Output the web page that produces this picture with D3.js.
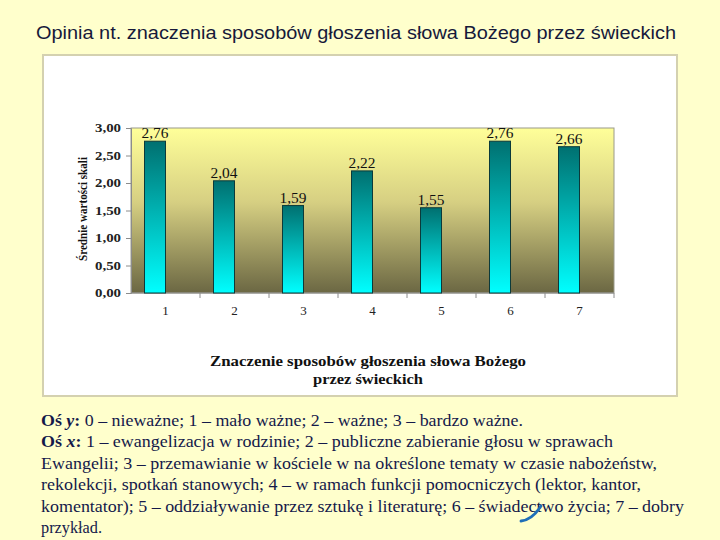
<!DOCTYPE html>
<html>
<head>
<meta charset="utf-8">
<script src="https://cdn.jsdelivr.net/npm/d3@7"></script>
<style>
  body { margin: 0; background: #FFFFCC; }
  svg { display: block; }
</style>
</head>
<body>
<svg></svg>
<script>
// data
let categories = ["1", "2", "3", "4", "5", "6", "7"];
let values = [2.76, 2.04, 1.59, 2.22, 1.55, 2.76, 2.66];
let yTicks = [0, 0.5, 1, 1.5, 2, 2.5, 3];

let title = "Opinia nt. znaczenia sposobów głoszenia słowa Bożego przez świeckich";
let yTitle = "Średnie wartości skali";
let xTitle = ["Znaczenie sposobów głoszenia słowa Bożego", "przez świeckich"];

// footnote lines: [bold lead, italic letter, rest]
let notes = [
    ["Oś ", "y", ": 0 – nieważne; 1 – mało ważne; 2 – ważne; 3 – bardzo ważne."],
    ["Oś ", "x", ": 1 – ewangelizacja w rodzinie; 2 – publiczne zabieranie głosu w sprawach"],
    ["", "", "Ewangelii; 3 – przemawianie w kościele w na określone tematy w czasie nabożeństw,"],
    ["", "", "rekolekcji, spotkań stanowych; 4 – w ramach funkcji pomocniczych (lektor, kantor,"],
    ["", "", "komentator); 5 – oddziaływanie przez sztukę i literaturę; 6 – świadectwo życia; 7 – dobry"],
    ["", "", "przykład."]
];
// widths of the (stretched) footnote lines in the picture
let noteWidths = [482, 572, 616, 600, 643, 61];

let W = 720, H = 540;
let svg = d3.select("svg").attr("width", W).attr("height", H);

let defs = svg.append("defs");
let bg = defs.append("linearGradient").attr("id", "plotbg")
    .attr("x1", 0).attr("y1", 0).attr("x2", 0).attr("y2", 1);
bg.append("stop").attr("offset", "0%").attr("stop-color", "#FFFF99");
bg.append("stop").attr("offset", "45%").attr("stop-color", "#D6CF82");
bg.append("stop").attr("offset", "100%").attr("stop-color", "#6B6743");

let barg = defs.append("linearGradient").attr("id", "bargrad")
    .attr("x1", 0).attr("y1", 0).attr("x2", 0).attr("y2", 1);
barg.append("stop").attr("offset", "0%").attr("stop-color", "#007070");
barg.append("stop").attr("offset", "50%").attr("stop-color", "#00B8B8");
barg.append("stop").attr("offset", "100%").attr("stop-color", "#00FFFF");

let serif = "Liberation Serif, Times New Roman";

// page title
svg.append("text")
    .attr("x", 36)
    .attr("y", 39)
    .attr("font-family", "Liberation Sans, Arial")
    .attr("font-size", "17.5px")
    .attr("fill", "#16193A")
    .attr("textLength", 640)
    .attr("lengthAdjust", "spacingAndGlyphs")
    .text(title);

// chart frame
svg.append("rect")
    .attr("x", 43).attr("y", 55)
    .attr("width", 634).attr("height", 341)
    .attr("fill", "#FFFFFF")
    .attr("stroke", "#D4D1B0")
    .attr("stroke-width", 2);

let plot = {left: 131, right: 614, top: 128, bottom: 293};

let x = d3.scaleBand().domain(categories).range([plot.left, plot.right]);
let y = d3.scaleLinear().domain([0, 3]).range([plot.bottom, plot.top]);

svg.append("rect")
    .attr("x", plot.left).attr("y", plot.top)
    .attr("width", plot.right - plot.left).attr("height", plot.bottom - plot.top)
    .attr("fill", "url(#plotbg)")
    .attr("stroke", "#9A9A8A")
    .attr("stroke-width", 1);

// y axis
let yAxis = svg.append("g")
    .attr("transform", "translate(" + plot.left + ",0)")
    .call(d3.axisLeft(y).tickValues(yTicks).tickSize(5).tickPadding(5)
        .tickFormat(d => d3.format(".2f")(d).replace(".", ",")));
yAxis.select(".domain").attr("stroke", "#8C8C8C");
yAxis.selectAll(".tick line").attr("stroke", "#8C8C8C");
yAxis.selectAll("text")
    .attr("font-family", serif)
    .attr("font-weight", "bold")
    .attr("font-size", "11.5px")
    .attr("fill", "#222")
    .attr("textLength", 26)
    .attr("lengthAdjust", "spacingAndGlyphs");

// x axis: ticks between categories
let xAxis = svg.append("g")
    .attr("transform", "translate(0," + plot.bottom + ")");
xAxis.append("line")
    .attr("x1", plot.left).attr("x2", plot.right)
    .attr("stroke", "#8C8C8C");
xAxis.selectAll("line.tk")
    .data(categories)
    .join("line")
    .attr("class", "tk")
    .attr("x1", d => x(d) + x.bandwidth()).attr("x2", d => x(d) + x.bandwidth())
    .attr("y1", 0).attr("y2", 5)
    .attr("stroke", "#8C8C8C");
xAxis.selectAll("text")
    .data(categories)
    .join("text")
    .attr("x", d => x(d) + x.bandwidth() / 2)
    .attr("y", 22)
    .attr("text-anchor", "middle")
    .attr("font-family", serif)
    .attr("font-size", "13px")
    .attr("fill", "#222")
    .text(d => d);

// bars sit just left of the category centre
let bw = 21;
svg.append("g").selectAll("rect")
    .data(values)
    .join("rect")
    .attr("x", (d, i) => x(categories[i]) + x.bandwidth() / 2 - bw)
    .attr("y", d => y(d))
    .attr("width", bw)
    .attr("height", d => y(0) - y(d))
    .attr("fill", "url(#bargrad)")
    .attr("stroke", "#0B3A3A")
    .attr("stroke-width", 1);

svg.append("g").selectAll("text")
    .data(values)
    .join("text")
    .attr("x", (d, i) => x(categories[i]) + x.bandwidth() / 2 - bw / 2)
    .attr("y", d => y(d) - 3)
    .attr("text-anchor", "middle")
    .attr("font-family", serif)
    .attr("font-size", "14px")
    .attr("fill", "#111")
    .attr("textLength", 27)
    .attr("lengthAdjust", "spacingAndGlyphs")
    .text(d => d3.format(".2f")(d).replace(".", ","));

// axis titles
svg.append("text")
    .attr("transform", "translate(87,209) rotate(-90)")
    .attr("text-anchor", "middle")
    .attr("font-family", serif)
    .attr("font-weight", "bold")
    .attr("font-size", "11.5px")
    .attr("fill", "#111")
    .attr("textLength", 104)
    .attr("lengthAdjust", "spacingAndGlyphs")
    .text(yTitle);

let xTitleW = [316, 110];
svg.append("g").selectAll("text")
    .data(xTitle)
    .join("text")
    .attr("x", 368)
    .attr("y", (d, i) => 366 + i * 18)
    .attr("text-anchor", "middle")
    .attr("font-family", serif)
    .attr("font-weight", "bold")
    .attr("font-size", "14px")
    .attr("fill", "#111")
    .attr("textLength", (d, i) => xTitleW[i])
    .attr("lengthAdjust", "spacingAndGlyphs")
    .text(d => d);

// footnote
let note = svg.append("g")
    .attr("font-family", serif)
    .attr("font-size", "17px")
    .attr("fill", "#14194A");
notes.forEach((n, i) => {
    let t = note.append("text")
        .attr("x", 41)
        .attr("y", 426 + i * 21.4)
        .attr("textLength", noteWidths[i])
        .attr("lengthAdjust", "spacingAndGlyphs");
    if (n[1]) {
        t.append("tspan").attr("font-weight", "bold").text(n[0]);
        t.append("tspan").attr("font-weight", "bold").attr("font-style", "italic").text(n[1]);
        t.append("tspan").attr("font-weight", "bold").text(":");
        t.append("tspan").text(n[2].slice(1));
    } else {
        t.text(n[2]);
    }
});

// small blue pen mark near "świadectwo"
svg.append("path")
    .attr("d", "M521,521 Q532,520 541,506")
    .attr("fill", "none")
    .attr("stroke", "#1F6FB8")
    .attr("stroke-width", 2.8)
    .attr("stroke-linecap", "round");
</script>
</body>
</html>
